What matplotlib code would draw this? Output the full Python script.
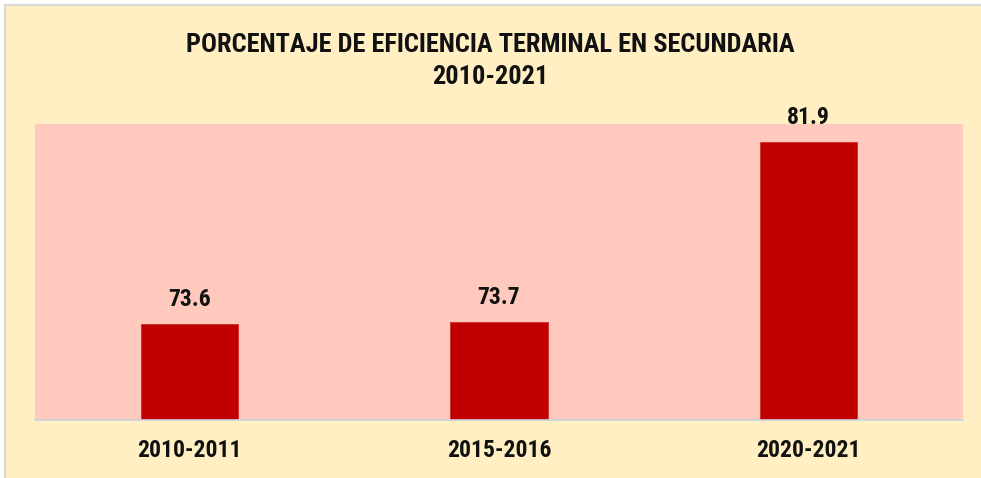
import matplotlib.pyplot as plt
from matplotlib.patches import Rectangle
from matplotlib import font_manager

# data
periods = ['2010-2011', '2015-2016', '2020-2021']
efficiency = [73.6, 73.7, 81.9]

available = {f.name for f in font_manager.fontManager.ttflist}
family = next((f for f in ['Roboto Condensed', 'Liberation Sans Narrow', 'Open Sans', 'Lato']
               if f in available), 'DejaVu Sans')
plt.rcParams['font.family'] = [family, 'DejaVu Sans']

fig = plt.figure(figsize=(9.81, 4.78), dpi=100, facecolor='white')

# yellow chart area with thin gray border
fig.patches.append(Rectangle((5 / 981, -0.01), 1.0, 1.0 - 5 / 478 + 0.01,
                             transform=fig.transFigure, facecolor='#FFEFC2',
                             edgecolor='#D9D9D9', linewidth=1.5, zorder=-10))

ax = fig.add_axes([35 / 981, 58 / 478, 928 / 981, 296 / 478])
ax.set_facecolor('#FFCABD')

x = range(len(periods))
bars = ax.bar(x, efficiency, width=0.314, color='#C00000', edgecolor='#D42A2A', linewidth=0.6)

ax.set_xlim(-0.5, 2.5)
ax.set_ylim(69.25, 82.72)

for b, v in zip(bars, efficiency):
    ax.annotate(f'{v:.1f}', (b.get_x() + b.get_width() / 2, v), xytext=(0, 18),
                textcoords='offset points', ha='center', va='center',
                fontsize=17, fontweight='bold', color='#111111', annotation_clip=False)

ax.set_xticks(list(x))
ax.set_xticklabels(periods, fontsize=17, fontweight='bold', color='#111111')
ax.tick_params(axis='x', length=0, pad=14)
ax.set_yticks([])

for s in ['top', 'left', 'right']:
    ax.spines[s].set_visible(False)
ax.spines['bottom'].set_color('#C9D3DD')
ax.spines['bottom'].set_linewidth(1.2)

fig.text(0.5, 1 - 44.5 / 478, 'PORCENTAJE DE EFICIENCIA TERMINAL EN SECUNDARIA',
         ha='center', va='center', fontsize=19, fontweight='bold', color='#111111')
fig.text(0.5, 1 - 77 / 478, '2010-2021', ha='center', va='center',
         fontsize=19, fontweight='bold', color='#111111')

fig.savefig('out.png', dpi=100, facecolor=fig.get_facecolor())
